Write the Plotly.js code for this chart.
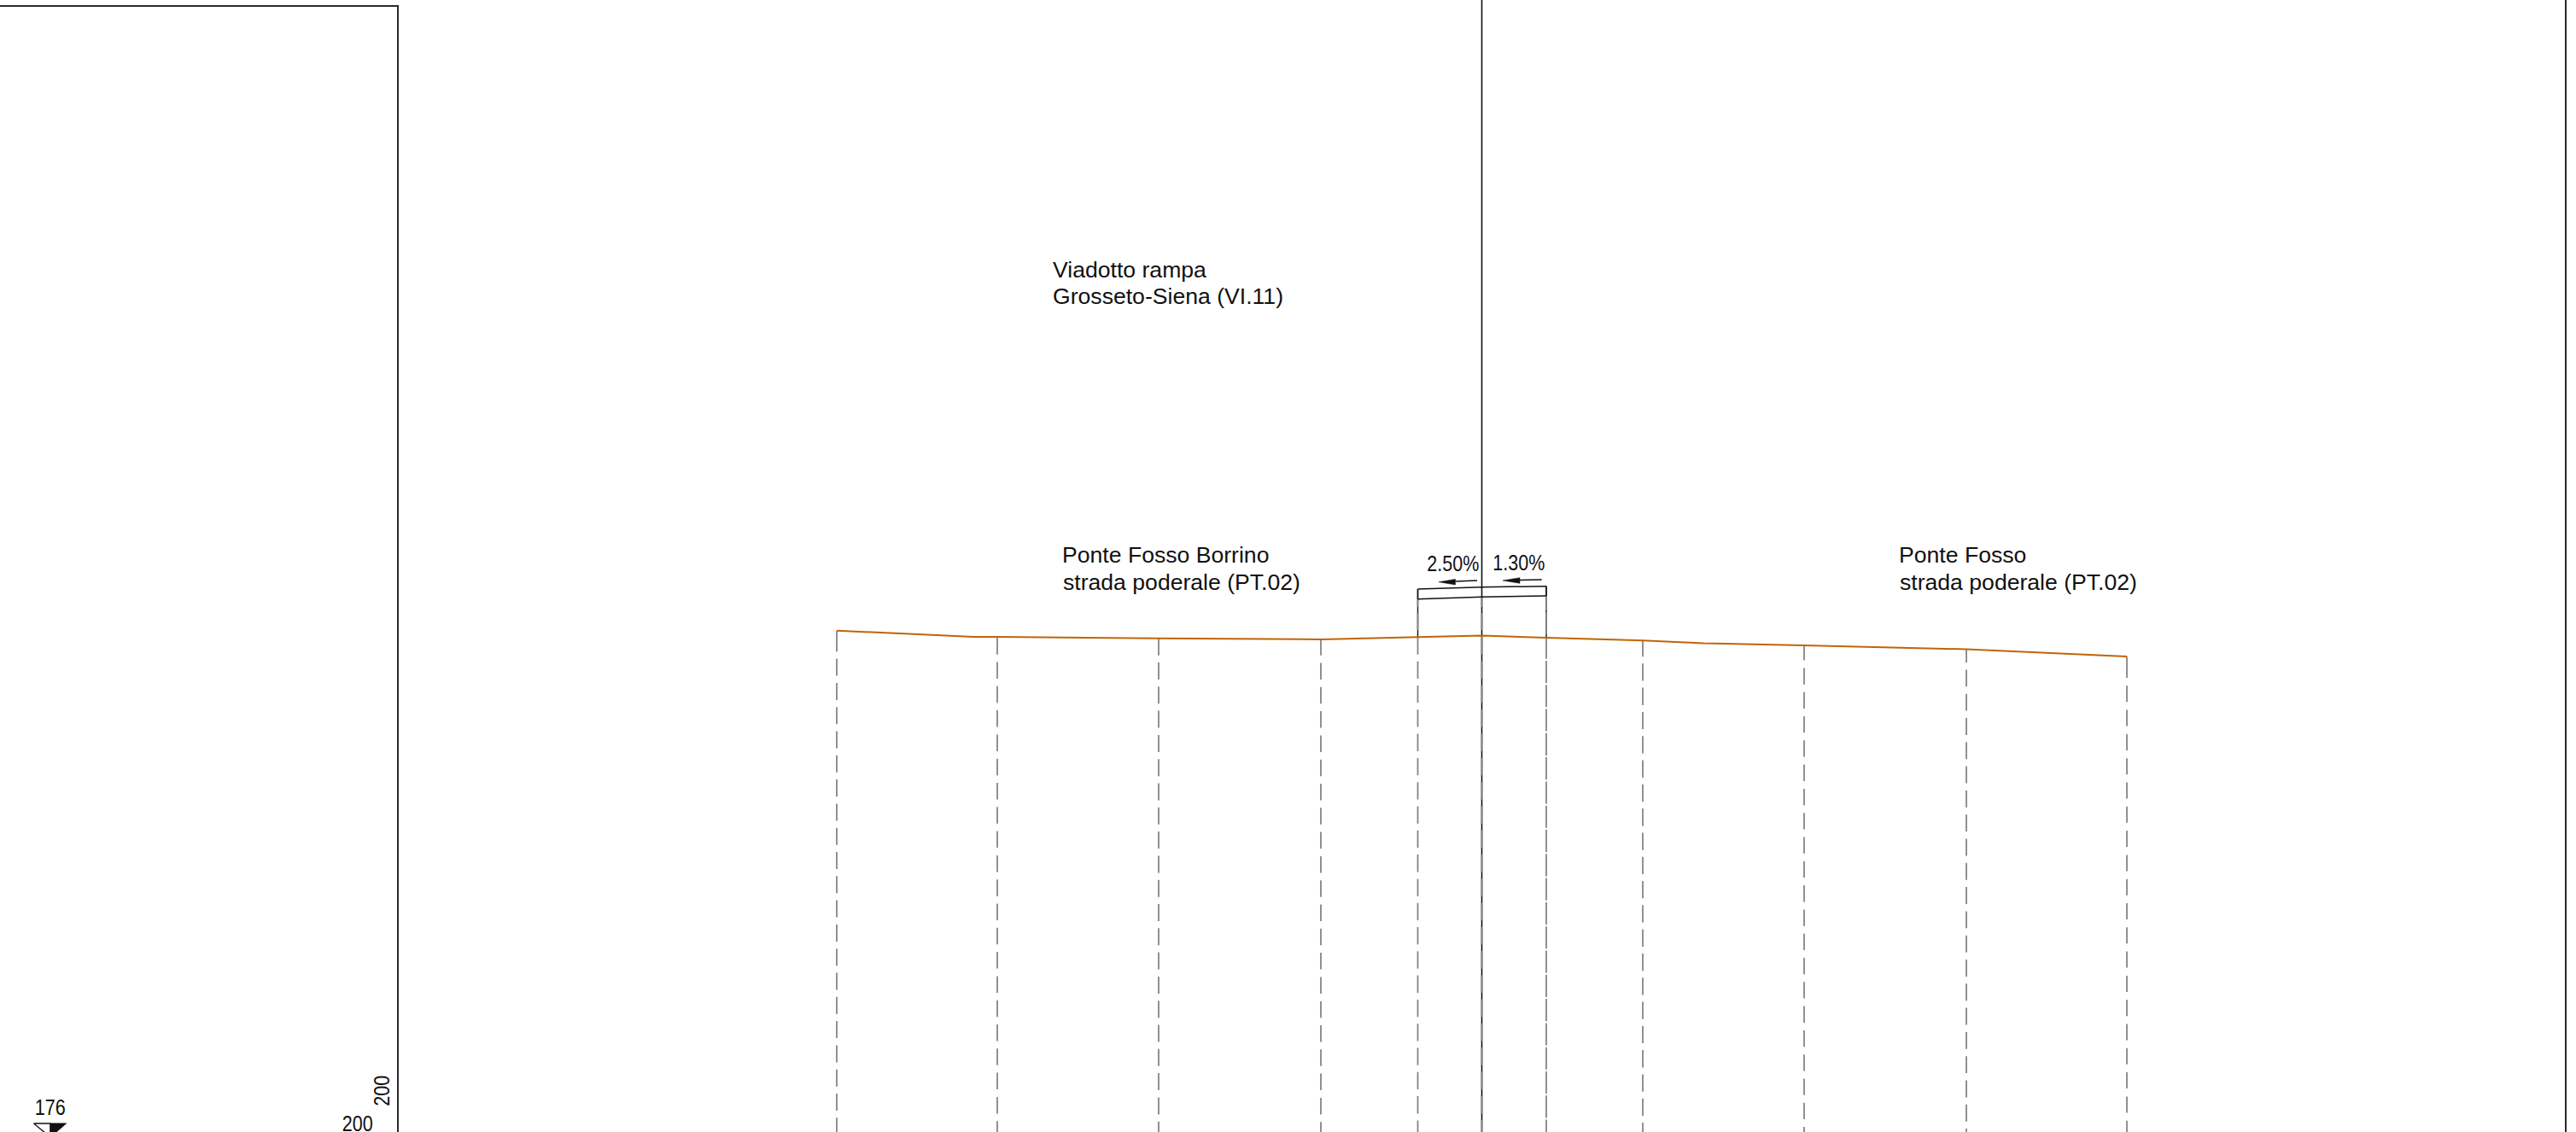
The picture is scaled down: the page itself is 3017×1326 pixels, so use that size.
<!DOCTYPE html>
<html><head><meta charset="utf-8">
<script src="https://cdn.plot.ly/plotly-3.0.1.min.js"></script>
<style>html,body{margin:0;padding:0;background:#fff}#c{width:3017px;height:1326px}</style>
</head><body><div id="c"></div>
<script>
// Drawing is read in page units: offset from the centreline (x) and height above the sheet bottom (y).
const sheetW = 3017, sheetH = 1326, centre = 1735.5;

// Road profile (orange polyline)
const profileOffset = [-755.5,-595.5,-567.5,-378.5,-188.5,-75,0,75.5,188.5,260,377.5,567.5,755.5];
const profileHeight = [587.3,580,580,578.3,577,579.7,581.5,579,575.7,572.5,570,565.5,557];
// Dashed stems hanging from the profile
const stemOffset = [-755.5,-567.5,-378.5,-188.5,-75,0,75.5,188.5,377.5,567.5,755.5];
const stemTop = [587.3,580,578.3,577,579.7,581.5,579,575.7,570,565.5,557];
const firstDashEnd = [562.7,559.3,558.3,558.3,559.3,559.3,554.3,556.7,552.6,550,532];
const dashGap = [8.3,8.8,8.3,8.8,8,7.8,2.2,8,9,8.4,9.3];
const dashPeriod = 28.3;

// Platform section over the centreline
const slabOffset = [-75,0,75.5];
const slabTop = [636,638.3,639.3];
const slabBottom = [624.3,626.7,628];

// Frame lines
const frameLeftOffset = -1269.5, frameRightOffset = 1269.5;

const texts = ["Viadotto rampa","Grosseto-Siena (VI.11)","Ponte Fosso Borrino","strada poderale (PT.02)","Ponte Fosso","strada poderale (PT.02)"];
const textOffset = [-502.5,-503,-491.5,-491,488,489];
const textHeight = [995.5,964,660.7,629.3,660.7,629.3];
const slopeLabels = ["2.50%","1.30%"];
const slopeOffset = [-33.15,43];
const slopeHeight = [650.7,652.3];
const levelLabel = "176", scaleLabel = "200";

const sans = "Liberation Sans";
const traces = [];
function line(x,y,color,width,dash){
  traces.push({type:"scatter",mode:"lines",x,y,hoverinfo:"skip",showlegend:false,
    line:{color,width,dash:dash||"solid",shape:"linear",simplify:false}});
}
function fill(x,y,fc,lc,lw){
  traces.push({type:"scatter",mode:"lines",x,y,fill:"toself",fillcolor:fc,hoverinfo:"skip",showlegend:false,
    line:{color:lc,width:lw}});
}
const black="#111", grey="#858585", orange="#c06408", frame="#2a2a2a";

// frame
line([-centre,frameLeftOffset,frameLeftOffset],[sheetH-7,sheetH-7,0],frame,2);
line([frameRightOffset,frameRightOffset],[0,sheetH],frame,2);
// centreline and the black parts of the two platform stems
line([0,0],[0,sheetH],black,1.6);
line([-75,-75],[636,579.7],black,1.4);
line([75.5,75.5],[639.3,579],black,1.4);
// stems
stemOffset.forEach((o,i)=>{
  const gap=dashGap[i];
  line([o,o],[stemTop[i],firstDashEnd[i]],grey,1.8);
  line([o,o],[firstDashEnd[i]-gap,0],grey,1.8,`${dashPeriod-gap}px,${gap}px`);
});
// upper parts of platform stems (grey over the black)
line([-75,-75],[624.3,615],grey,1.8);line([-75,-75],[608,587.7],grey,1.8);
line([0,0],[626.7,615],grey,1.8);line([0,0],[608,588],grey,1.8);
line([75.5,75.5],[628,611],grey,1.8);line([75.5,75.5],[609,583],grey,1.8);
// platform
line(slabOffset,slabTop,black,1.5);
line(slabOffset,slabBottom,black,1.5);
line([-75,-75],[636,624.3],black,1.5);
line([75.5,75.5],[639.3,628],black,1.5);
// profile
line(profileOffset,profileHeight,orange,2);
// slope arrows
line([-5.5,-31],[646,645],black,1.3);
fill([-50.5,-31,-31,-50.5],[644.3,647.6,641,644.3],black,black,0.5);
line([70.2,44.5],[647,646.5],black,1.3);
fill([24.5,44.5,44.5,24.5],[646,649.3,642.7,646],black,black,0.5);
// level marker
fill([-1696,-1676.5,-1676.5,-1696],[10,10,-6,10],"#ffffff",black,1.3);
fill([-1676.5,-1658,-1676.5,-1676.5],[10,10,-6,10],black,black,1);

const annotations=[], squeezed=[];
function label(text,x,y,size,opts){
  opts=opts||{};
  if(opts.width) squeezed.push([annotations.length,opts.width]);
  annotations.push({text,x,y,xref:"x",yref:"y",showarrow:false,
    xanchor:opts.xanchor||"left",yanchor:opts.yanchor||"bottom",
    yshift:opts.yshift||0,textangle:opts.angle||0,borderpad:0,borderwidth:0,
    font:{family:sans,size,color:"#111"}});
}
texts.forEach((t,i)=>label(t,textOffset[i],textHeight[i],26.6));
slopeLabels.forEach((t,i)=>label(t,slopeOffset[i],slopeHeight[i],26,{xanchor:"center",width:61}));
label(levelLabel,-1676.8,14,26,{xanchor:"center",width:36});
label(scaleLabel,-1317.5,0,26,{xanchor:"center",width:36,yshift:-5});
label(scaleLabel,-1288.5,47.6,26,{xanchor:"center",yanchor:"middle",angle:-90,width:36});

Plotly.newPlot("c",traces,{
  width:sheetW,height:sheetH,margin:{l:0,r:0,t:0,b:0,pad:0},
  paper_bgcolor:"#fff",plot_bgcolor:"#fff",showlegend:false,
  xaxis:{range:[-centre,sheetW-centre],visible:false,fixedrange:true},
  yaxis:{range:[0,sheetH],visible:false,fixedrange:true},
  annotations
},{staticPlot:true,displayModeBar:false}).then(()=>{
  // the reference lettering is condensed: squeeze these labels to their read widths
  squeezed.forEach(([i,w])=>{
    const t=document.querySelector(`.annotation[data-index="${i}"] text`);
    if(t){t.setAttribute("textLength",w);t.setAttribute("lengthAdjust","spacingAndGlyphs");}
  });
});
</script></body></html>
